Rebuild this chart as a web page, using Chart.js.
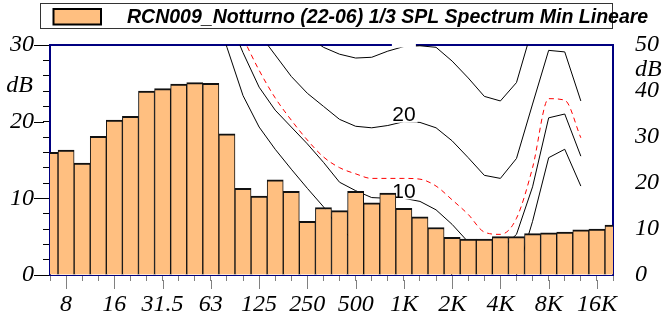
<!DOCTYPE html>
<html>
<head>
<meta charset="utf-8">
<script src="https://cdn.jsdelivr.net/npm/chart.js@4"></script>
<style>
  html, body { margin: 0; padding: 0; background: #fff; }
  #wrap { width: 663px; height: 322px; position: relative; }
</style>
</head>
<body>
<div id="wrap"><canvas id="spectrum"></canvas></div>
<script>
// 1/3 octave bands, 6.3 Hz .. 20 kHz
const bands = ['6.3', '8', '10', '12.5', '16', '20', '25', '31.5', '40', '50', '63', '80',
  '100', '125', '160', '200', '250', '315', '400', '500', '630', '800', '1K', '1.25K',
  '1.6K', '2K', '2.5K', '3.15K', '4K', '5K', '6.3K', '8K', '10K', '12.5K', '16K', '20K'];
const tickLabels = ['8', '16', '31.5', '63', '125', '250', '500', '1K', '2K', '4K', '8K', '16K'];
const yMajor = [0, 10, 20, 30];

const seriesLabel = 'RCN009_Notturno (22-06) 1/3 SPL Spectrum Min Lineare';
const splMin = [16.0, 16.3, 14.6, 18.1, 20.2, 20.7, 24.0, 24.3, 24.9, 25.1, 25.0, 18.4,
  11.3, 10.3, 12.4, 10.9, 7.0, 8.8, 8.4, 10.9, 9.4, 10.7, 8.7, 7.6,
  6.2, 4.9, 4.7, 4.7, 5.0, 5.0, 5.4, 5.5, 5.6, 5.9, 6.0, 6.5];

// equal loudness curves (20 Hz .. 12.5 kHz), left axis dB
const threshold = [null, null, null, null, null, 76, 67, 58, 50, 43, 36, 29.7,
  23.4, 19.3, 16.4, 13.8, 11.3, 8.9, 6, 4.5, 3, 2, 2, 3,
  2, 0, -2, -4, -4, 0, 7, 15.3, 16.4, 11.6, null, null];
const phon10 = [null, null, null, null, null, 72, 65, 58, 52, 46, 40, 34,
  29.0, 24.5, 21.5, 19.3, 17.1, 14.7, 12.1, 11.0, 10.1, 10.0, 10.0, 9.6,
  8.5, 6.6, 4.3, 3.2, 3.3, 5.3, 11.5, 20.5, 21.0, 15.5, null, null];
const refCurve = [null, null, null, null, null, 70, 62, 55, 48, 42, 37, 35,
  30.9, 26.7, 23.1, 20.2, 17.6, 15.4, 14.0, 13.2, 12.6, 12.6, 12.6, 12.5,
  11.6, 9.8, 7.9, 5.6, 5.3, 7.4, 14.0, 23.0, 22.8, 17.9, null, null];
const phon20 = [null, null, null, null, null, 75, 68, 61, 55, 49, 44, 39,
  35, 31.5, 28.7, 25.9, 23.7, 22.0, 20.3, 19.4, 19.2, 19.5, 20.0, 19.9,
  19.2, 17.5, 15.3, 13.0, 12.6, 15.2, 22.3, 29.3, 29.1, 22.7, null, null];
const phon30 = [null, null, null, null, null, 79, 72, 66, 60, 55, 50, 46,
  42, 39, 36, 33.5, 31.2, 29.7, 28.8, 28.3, 28.4, 29.2, 29.8, 29.9,
  29.7, 27.9, 25.7, 23.3, 22.7, 25.1, 32.3, 40, 40, 33.5, null, null];

const barColor = '#FFBF80';
const axisFont = { family: '"Liberation Serif", "Times New Roman", serif', style: 'italic', size: 24 };

function curve(data, color, dash) {
    return {
        type: 'line',
        data: data,
        borderColor: color,
        borderWidth: 1,
        borderDash: dash || [],
        pointRadius: 0,
        fill: false,
        tension: 0,
        clip: 0,
        order: 1,
        yAxisID: 'y'
    };
}

// frame top edge and the longer ticks on labelled values
const frameTicks = {
    id: 'frameTicks',
    beforeDatasetsDraw(chart) {
        const { ctx, chartArea: a, scales: { x, y } } = chart;
        ctx.save();
        ctx.strokeStyle = '#000080';
        ctx.lineWidth = 2;
        ctx.beginPath();
        ctx.moveTo(a.left - 1, a.top);
        ctx.lineTo(a.right + 1, a.top);
        ctx.stroke();

        ctx.lineWidth = 1;
        ctx.strokeStyle = '#000';
        yMajor.forEach(v => {
            const py = Math.round(y.getPixelForValue(v)) + 0.5;
            ctx.beginPath();
            ctx.moveTo(a.left - 16, py);
            ctx.lineTo(a.left - 6, py);
            ctx.stroke();
        });
        ctx.strokeStyle = '#808080';
        bands.forEach((b, i) => {
            if (!tickLabels.includes(b)) return;
            const px = Math.round(x.getPixelForValue(i)) + 0.5;
            ctx.beginPath();
            ctx.moveTo(px, a.bottom + 5);
            ctx.lineTo(px, a.bottom + 14);
            ctx.stroke();
        });
        ctx.restore();
    }
};

// curve labels go between the lines and the bars
const curveLabels = {
    id: 'curveLabels',
    beforeDatasetDraw(chart, args) {
        if (args.index !== 0) return;
        const { ctx, chartArea: a, scales: { x, y } } = chart;
        const i = bands.indexOf('1K');
        const px = x.getPixelForValue(i);
        ctx.save();
        ctx.fillStyle = '#fff';
        const p30 = y.getPixelForValue(phon30[i]);
        ctx.fillRect(px - 12, a.top - 2, 24, p30 - a.top + 3);

        ctx.font = '21px "Liberation Sans", Arial, sans-serif';
        ctx.textAlign = 'center';
        ctx.textBaseline = 'middle';
        [['10', phon10], ['20', phon20]].forEach(([t, d]) => {
            const py = y.getPixelForValue(d[i]) - 7;
            const w = ctx.measureText(t).width + 4;
            ctx.fillStyle = '#fff';
            ctx.fillRect(px - w / 2, py - 10, w, 18);
            ctx.fillStyle = '#000';
            ctx.fillText(t, px, py + 1);
        });
        ctx.restore();
    }
};

// unit labels and the legend box above the plot
const extras = {
    id: 'extras',
    afterDraw(chart) {
        const { ctx, chartArea: a, scales: { y, y2 } } = chart;
        ctx.save();
        ctx.fillStyle = '#000';
        ctx.font = 'italic 24px "Liberation Serif", "Times New Roman", serif';
        ctx.textBaseline = 'middle';
        ctx.textAlign = 'right';
        ctx.fillText('dB', a.left - 17, y.getPixelForValue(25) + 2);
        ctx.textAlign = 'left';
        ctx.fillText('dB', a.right + 22, y2.getPixelForValue(45) + 2);

        ctx.strokeStyle = '#333';
        ctx.lineWidth = 1;
        ctx.strokeRect(40.5, 3.5, 572, 25);
        ctx.fillStyle = barColor;
        ctx.fillRect(53, 8, 49, 17);
        ctx.strokeStyle = '#000';
        ctx.lineWidth = 2;
        ctx.strokeRect(53.5, 9, 47.5, 15.5);
        ctx.fillStyle = '#000';
        ctx.font = 'bold italic 19.5px "Liberation Sans", Arial, sans-serif';
        ctx.textBaseline = 'alphabetic';
        ctx.fillText(chart.data.datasets[0].label, 127, 23);
        ctx.restore();
    }
};

new Chart(document.getElementById('spectrum'), {
    type: 'bar',
    data: {
        labels: bands,
        datasets: [
            {
                label: seriesLabel,
                data: splMin,
                backgroundColor: barColor,
                borderColor: '#111',
                borderWidth: { top: 2, left: 1, right: 1, bottom: 0 },
                barPercentage: 1,
                categoryPercentage: 1,
                clip: 0,
                order: 0,
                yAxisID: 'y'
            },
            curve(threshold, '#000'),
            curve(phon10, '#000'),
            Object.assign(curve(refCurve, '#ff0000', [5, 4]), { cubicInterpolationMode: 'monotone' }),
            curve(phon20, '#000'),
            curve(phon30, '#000')
        ]
    },
    options: {
        responsive: true,
        maintainAspectRatio: false,
        animation: false,
        layout: { padding: { top: 45, left: 0, right: 0, bottom: 0 } },
        plugins: {
            legend: { display: false },
            tooltip: { enabled: false }
        },
        scales: {
            x: {
                type: 'category',
                offset: false,
                grid: { offset: false, drawOnChartArea: false, tickLength: 6, tickColor: '#808080' },
                border: { color: '#000080', width: 1, z: 1 },
                ticks: {
                    autoSkip: false,
                    maxRotation: 0,
                    padding: 9,
                    color: '#000',
                    font: axisFont,
                    callback: (v, i) => tickLabels.includes(bands[i]) ? bands[i] : ''
                },
                afterFit(s) { s.height = 47; }
            },
            y: {
                position: 'left',
                min: 0,
                max: 30,
                grid: { drawOnChartArea: false, tickLength: 7, tickColor: '#000' },
                border: { color: '#000080', width: 2 },
                ticks: {
                    stepSize: 2,
                    autoSkip: false,
                    padding: 9,
                    color: '#000',
                    font: axisFont,
                    callback: v => v % 10 === 0 ? v : ''
                },
                afterFit(s) { s.width = 50; }
            },
            y2: {
                position: 'right',
                min: 0,
                max: 50,
                grid: { drawOnChartArea: false, drawTicks: false },
                border: { color: '#000080', width: 2 },
                ticks: { stepSize: 10, padding: 22, color: '#000', font: axisFont },
                afterFit(s) { s.width = 50; }
            }
        }
    },
    plugins: [frameTicks, curveLabels, extras]
});
</script>
</body>
</html>
